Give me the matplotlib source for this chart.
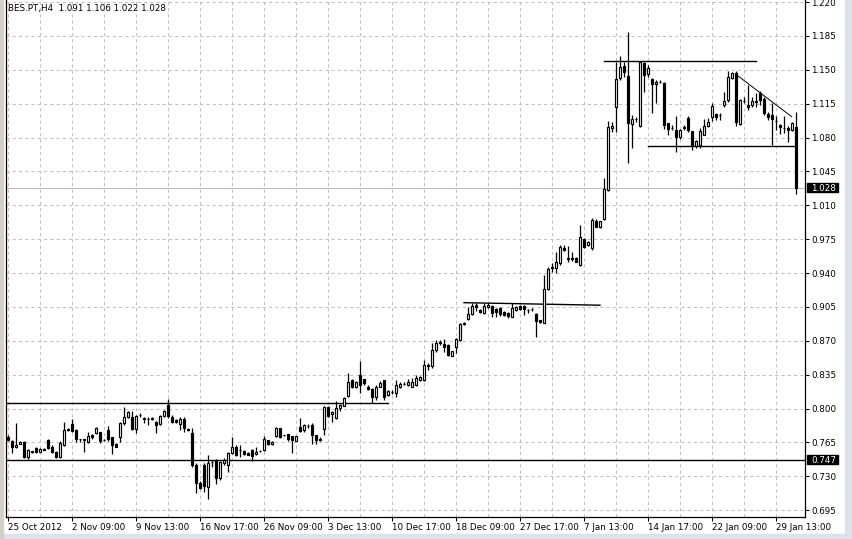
import numpy as np
import matplotlib.pyplot as plt
import matplotlib.transforms as mtransforms
from matplotlib.patches import Rectangle

# BES.PT H4 candles (one entry per bar)
opens = [0.771, 0.7665, 0.760, 0.7635, 0.7652, 0.750, 0.756, 0.759, 0.7555, 0.758,
         0.7676, 0.7607, 0.7555, 0.750, 0.7624, 0.778, 0.7837, 0.778, 0.7685, 0.768,
         0.7659, 0.7727, 0.7745, 0.7755, 0.768, 0.778, 0.7703, 0.7635, 0.7703, 0.7848,
         0.7917, 0.791, 0.7786, 0.7934, 0.790, 0.789, 0.789, 0.7865, 0.784, 0.7923,
         0.8037, 0.7917, 0.7882, 0.7838, 0.7893, 0.779, 0.7752, 0.7418, 0.7235, 0.7418,
         0.7194, 0.7452, 0.747, 0.7287, 0.7435, 0.7418, 0.7538, 0.7607, 0.7573, 0.7565,
         0.754, 0.7572, 0.7528, 0.756, 0.7572, 0.7676, 0.763, 0.7717, 0.7796, 0.7728,
         0.7735, 0.7717, 0.767, 0.7807, 0.7779, 0.7819, 0.783, 0.7728, 0.769, 0.7786,
         0.802, 0.7944, 0.790, 0.801, 0.803, 0.8133, 0.8295, 0.8226, 0.8347, 0.8302,
         0.8219, 0.8199, 0.8116, 0.8226, 0.8295, 0.8141, 0.8175, 0.8158, 0.8226, 0.8254,
         0.8244, 0.8226, 0.8245, 0.8297, 0.8297, 0.8452, 0.8435, 0.8606, 0.868, 0.8668,
         0.8658, 0.8548, 0.8641, 0.871, 0.887, 0.8926, 0.8975, 0.907, 0.9019, 0.8985,
         0.9047, 0.906, 0.9026, 0.9036, 0.9002, 0.8992, 0.895, 0.902, 0.906, 0.906,
         0.9019, 0.9026, 0.8978, 0.891, 0.8888, 0.9236, 0.9466, 0.945, 0.950, 0.9656,
         0.955, 0.955, 0.9559, 0.9484, 0.9752, 0.969, 0.9658, 0.9943, 0.9875, 0.9957,
         1.026, 1.0896, 1.112, 1.1412, 1.154, 1.1436, 1.0941, 1.0989, 1.092, 1.1574,
         1.1457, 1.1402, 1.1354, 1.1378, 1.136, 1.0948, 1.0903, 1.0879, 1.0803, 1.0903,
         1.1006, 1.0869, 1.0714, 1.0724, 1.0827, 1.092, 1.101, 1.104, 1.1034, 1.1137,
         1.1188, 1.1412, 1.147, 1.0941, 1.1182, 1.1137, 1.1137, 1.1181, 1.1264, 1.1195,
         1.1044, 1.1034, 1.0972, 1.093, 1.0903, 1.0896, 1.0879, 1.091]
highs = [0.773, 0.7676, 0.7848, 0.766, 0.766, 0.758, 0.756, 0.7607, 0.759, 0.759,
         0.769, 0.762, 0.756, 0.766, 0.7865, 0.780, 0.789, 0.779, 0.7687, 0.769,
         0.776, 0.774, 0.781, 0.776, 0.769, 0.782, 0.771, 0.764, 0.7865, 0.8013,
         0.798, 0.798, 0.7934, 0.795, 0.791, 0.791, 0.791, 0.787, 0.7934, 0.799,
         0.8095, 0.7934, 0.789, 0.7917, 0.7917, 0.780, 0.7796, 0.7435, 0.7252, 0.7435,
         0.752, 0.747, 0.748, 0.746, 0.7487, 0.7555, 0.771, 0.762, 0.762, 0.757,
         0.755, 0.758, 0.760, 0.757, 0.772, 0.768, 0.766, 0.781, 0.780, 0.773,
         0.774, 0.772, 0.772, 0.790, 0.7841, 0.784, 0.7848, 0.773, 0.771, 0.8027,
         0.803, 0.798, 0.808, 0.805, 0.8123, 0.8364, 0.831, 0.829, 0.8495, 0.831,
         0.8244, 0.821, 0.824, 0.828, 0.830, 0.819, 0.819, 0.8295, 0.827, 0.827,
         0.831, 0.832, 0.835, 0.834, 0.8503, 0.847, 0.8682, 0.871, 0.871, 0.8716,
         0.867, 0.860, 0.8727, 0.8882, 0.889, 0.9047, 0.9088, 0.9088, 0.9025, 0.9088,
         0.9088, 0.907, 0.9035, 0.9045, 0.901, 0.900, 0.9088, 0.906, 0.907, 0.907,
         0.9025, 0.9035, 0.8985, 0.8915, 0.938, 0.9466, 0.9508, 0.962, 0.969, 0.969,
         0.968, 0.9621, 0.957, 0.9896, 0.976, 0.973, 0.9967, 0.996, 0.994, 1.038,
         1.0975, 1.0965, 1.1584, 1.1643, 1.1584, 1.1894, 1.1034, 1.1016, 1.1594, 1.1584,
         1.155, 1.1412, 1.139, 1.139, 1.137, 1.0955, 1.093, 1.1023, 1.089, 1.093,
         1.1023, 1.087, 1.077, 1.0896, 1.0989, 1.100, 1.116, 1.105, 1.105, 1.1274,
         1.1491, 1.1481, 1.1491, 1.1199, 1.1216, 1.1343, 1.1223, 1.1264, 1.1285, 1.1223,
         1.1068, 1.1161, 1.1023, 1.094, 1.1023, 1.092, 1.0965, 1.106]
lows = [0.767, 0.7538, 0.759, 0.763, 0.7487, 0.748, 0.754, 0.754, 0.755, 0.757,
        0.758, 0.754, 0.749, 0.7487, 0.7617, 0.777, 0.776, 0.765, 0.765, 0.7555,
        0.7641, 0.769, 0.7735, 0.764, 0.767, 0.766, 0.753, 0.760, 0.765, 0.783,
        0.790, 0.778, 0.7745, 0.791, 0.785, 0.783, 0.788, 0.775, 0.783, 0.791,
        0.790, 0.785, 0.785, 0.778, 0.776, 0.777, 0.7394, 0.7125, 0.717, 0.714,
        0.7067, 0.740, 0.722, 0.726, 0.7418, 0.735, 0.7528, 0.751, 0.7504, 0.752,
        0.752, 0.746, 0.752, 0.755, 0.756, 0.762, 0.7625, 0.7703, 0.770, 0.772,
        0.766, 0.7545, 0.766, 0.776, 0.776, 0.780, 0.7635, 0.7635, 0.767, 0.7728,
        0.7917, 0.7865, 0.789, 0.797, 0.8023, 0.8123, 0.821, 0.8216, 0.8158, 0.8244,
        0.8192, 0.8054, 0.809, 0.822, 0.809, 0.813, 0.815, 0.8116, 0.8216, 0.8244,
        0.823, 0.822, 0.823, 0.829, 0.829, 0.840, 0.8417, 0.8589, 0.866, 0.8589,
        0.8545, 0.854, 0.8572, 0.8703, 0.8865, 0.8916, 0.8968, 0.9012, 0.899, 0.8978,
        0.904, 0.895, 0.895, 0.896, 0.8955, 0.894, 0.8944, 0.901, 0.902, 0.8968,
        0.8985, 0.901, 0.8737, 0.8885, 0.8882, 0.9226, 0.9415, 0.9398, 0.9484, 0.963,
        0.9518, 0.9528, 0.951, 0.9473, 0.966, 0.968, 0.964, 0.9875, 0.987, 0.995,
        1.0243, 1.0862, 1.0862, 1.1395, 1.143, 1.054, 1.069, 1.0965, 1.0913, 1.1274,
        1.143, 1.1058, 1.116, 1.136, 1.0886, 1.0827, 1.0879, 1.0655, 1.079, 1.0879,
        1.0862, 1.0672, 1.069, 1.069, 1.0827, 1.0913, 1.0975, 1.0982, 1.0982, 1.1113,
        1.1171, 1.1405, 1.092, 1.093, 1.1154, 1.1085, 1.1113, 1.112, 1.1137, 1.1034,
        1.0982, 1.0724, 1.0879, 1.0838, 1.0844, 1.0758, 1.0869, 1.022]
closes = [0.768, 0.7607, 0.7624, 0.7659, 0.7504, 0.757, 0.755, 0.7555, 0.758, 0.7575,
          0.759, 0.755, 0.750, 0.7648, 0.778, 0.779, 0.7772, 0.7683, 0.7683, 0.7683,
          0.7717, 0.7703, 0.7796, 0.767, 0.7675, 0.7683, 0.7624, 0.7607, 0.7848, 0.7917,
          0.7965, 0.779, 0.7923, 0.7935, 0.789, 0.789, 0.7905, 0.783, 0.7923, 0.7975,
          0.7923, 0.7865, 0.786, 0.7893, 0.7803, 0.778, 0.7418, 0.723, 0.7177, 0.7204,
          0.7435, 0.7453, 0.7287, 0.745, 0.747, 0.7538, 0.760, 0.752, 0.7572, 0.7528,
          0.7525, 0.7514, 0.7555, 0.7562, 0.7682, 0.763, 0.7652, 0.7796, 0.771, 0.7726,
          0.7686, 0.7676, 0.7717, 0.7772, 0.783, 0.782, 0.7728, 0.7676, 0.7676, 0.802,
          0.7924, 0.7968, 0.8003, 0.8037, 0.8113, 0.8278, 0.8226, 0.8278, 0.8244, 0.8261,
          0.8199, 0.8116, 0.8226, 0.8268, 0.8116, 0.8185, 0.8175, 0.8244, 0.8254, 0.8256,
          0.8278, 0.8278, 0.8314, 0.8324, 0.8452, 0.8435, 0.8606, 0.8682, 0.8692, 0.864,
          0.8555, 0.8596, 0.8716, 0.8875, 0.8889, 0.8978, 0.906, 0.9047, 0.8995, 0.906,
          0.907, 0.8992, 0.9002, 0.8978, 0.8968, 0.8957, 0.9036, 0.9047, 0.9026, 0.9026,
          0.9019, 0.9026, 0.8909, 0.889, 0.9236, 0.944, 0.945, 0.9518, 0.9666, 0.964,
          0.9552, 0.9552, 0.9518, 0.9769, 0.9673, 0.9724, 0.995, 0.988, 0.9933, 1.0267,
          1.0907, 1.0918, 1.1402, 1.1533, 1.148, 1.0948, 1.0989, 1.0990, 1.1584, 1.1446,
          1.1515, 1.135, 1.1378, 1.1378, 1.093, 1.0886, 1.0903, 1.0803, 1.0879, 1.0905,
          1.0879, 1.0714, 1.0765, 1.0872, 1.092, 1.0965, 1.1126, 1.1016, 1.1033, 1.1178,
          1.1422, 1.147, 1.0965, 1.1188, 1.1181, 1.112, 1.1181, 1.1171, 1.1188, 1.1051,
          1.101, 1.0989, 1.0972, 1.0906, 1.0903, 1.0879, 1.0948, 1.028]

time_tick_bars = [0, 16, 32, 48, 64, 80, 96, 112, 128, 144, 160, 176, 192]
time_tick_labels = ["25 Oct 2012", "2 Nov 09:00", "9 Nov 13:00", "16 Nov 17:00",
                    "26 Nov 09:00", "3 Dec 13:00", "10 Dec 17:00", "18 Dec 09:00",
                    "27 Dec 17:00", "7 Jan 13:00", "14 Jan 17:00", "22 Jan 09:00",
                    "29 Jan 13:00"]
price_ticks = [0.695, 0.730, 0.765, 0.800, 0.835, 0.870, 0.905, 0.940,
               0.975, 1.010, 1.045, 1.080, 1.115, 1.150, 1.185, 1.220]

# drawn objects: (bar from, bar to), (price from, price to)
support_price = 0.747
nov_level = ((-0.5, 95.1), (0.8054, 0.8054))
dec_level = ((114, 148), (0.9094, 0.9068))
jan_top = ((149, 187), (1.1587, 1.1587))
jan_bottom = ((160, 196.75), (1.071, 1.071))
jan_trend = ((182.2, 195.9), (1.1446, 1.1016))
bid_price = 1.028
header = "BES.PT,H4  1.091 1.106 1.022 1.028"

W, H = 852, 539
fig = plt.figure(figsize=(W / 100, H / 100), dpi=100, facecolor="white")
ax = fig.add_axes([6 / W, 22 / H, 799 / W, 517 / H])
ax.set_facecolor("white")

# window frame bits
fig.patches.append(Rectangle((845 / W, 0), 7 / W, 1, transform=fig.transFigure,
                             color="#dbe2ec", zorder=0))
fig.patches.append(Rectangle((0, 0), 1, 5 / H, transform=fig.transFigure,
                             color="#dbe2ec", zorder=0))
fig.patches.append(Rectangle((0, 0), 3 / W, 1, transform=fig.transFigure,
                             color="#d4d0c8", zorder=0))

o = np.array(opens)
h = np.array(highs)
l = np.array(lows)
c = np.array(closes)
x = np.arange(len(o))
up = c >= o

ax.vlines(x, l, h, color="black", lw=0.9, zorder=3)
lo = np.minimum(o, c)
ht = np.abs(c - o)
ax.bar(x[up], ht[up], bottom=lo[up], width=0.58, facecolor="white",
       edgecolor="black", lw=0.85, zorder=4)
ax.bar(x[~up], ht[~up], bottom=lo[~up], width=0.58, facecolor="black",
       edgecolor="black", lw=0.85, zorder=4)

# drawn lines
ax.axhline(support_price, color="black", lw=1.0, zorder=2)
ax.axhline(bid_price, color="#c0c0c0", lw=0.8, zorder=1)
for seg in (nov_level, dec_level, jan_top, jan_bottom):
    ax.plot(seg[0], seg[1], color="black", lw=1.0, zorder=2)
ax.plot(jan_trend[0], jan_trend[1], color="black", lw=0.7, zorder=2)

ax.set_xlim(-0.5, 199.25)
ax.set_ylim(0.688, 1.2221)

ax.set_yticks(price_ticks)
ax.set_yticklabels([f"{p:.3f}" for p in price_ticks])
ax.yaxis.tick_right()
ax.set_xticks(time_tick_bars)
ax.set_xticklabels(time_tick_labels)
ax.set_xticks(range(8, 199, 16), minor=True)
for lab in ax.get_xticklabels():
    lab.set_horizontalalignment("left")

ax.tick_params(axis="both", which="major", length=3, width=0.75, color="black",
               labelsize=6.3, pad=1.5, direction="out")
ax.tick_params(axis="x", which="minor", length=0)
grid_style = dict(color="#c0c0c0", lw=0.75, linestyle=(0, (3, 3)))
ax.grid(axis="y", which="major", **grid_style)
ax.grid(axis="x", which="both", **grid_style)
ax.set_axisbelow(True)

for side in ("left", "right", "bottom"):
    ax.spines[side].set_color("black")
    ax.spines[side].set_linewidth(0.9)
ax.spines["top"].set_visible(False)

# price labels on the axis
blend = mtransforms.blended_transform_factory(ax.transAxes, ax.transData)
px = 1 / 968  # price per pixel
for price in (support_price, bid_price):
    ax.add_patch(Rectangle((1.0025, price - 4.5 * px), 0.0388, 9.5 * px,
                           transform=blend, clip_on=False, color="black", zorder=6))
    ax.text(1.0075, price - 3.3 * px, f"{price:.3f}", transform=blend, color="white",
            fontsize=6.3, ha="left", va="baseline", zorder=7, clip_on=False)

fig.text(8 / W, 1 - 8.5 / H, header, ha="left", va="center", fontsize=6.3,
         color="black")

fig.savefig("out.png", dpi=100, facecolor="white")
